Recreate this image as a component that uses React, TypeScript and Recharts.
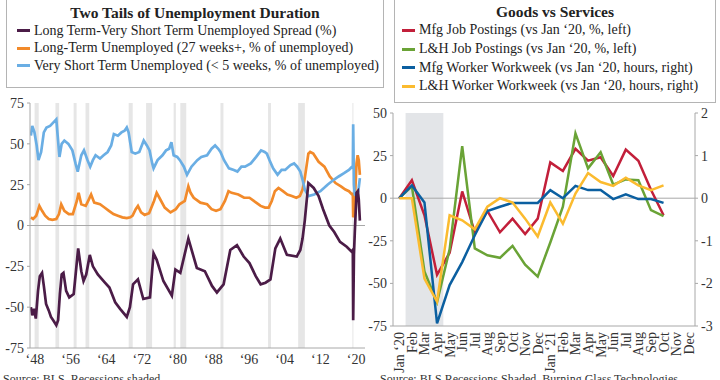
import React from 'react';
import { LineChart, Line, XAxis, YAxis, ReferenceArea, ReferenceLine } from 'recharts';

const FONT = '"Liberation Serif", "Times New Roman", serif';
const AXIS = '#a8a8a8';
const INK = '#333';

// ---- left panel: duration of unemployment, [year, value] ----
const spreadPts: [number, number][] = [
  [1948.0, -50], [1948.3, -55], [1948.7, -51], [1949.1, -57], [1949.6, -40], [1950.0, -31], [1950.5, -29],
  [1950.9, -37], [1951.4, -48], [1952.0, -52], [1952.5, -56], [1953.0, -58], [1953.7, -61], [1954.1, -58],
  [1954.5, -42], [1954.9, -30], [1955.3, -29], [1955.9, -40], [1956.6, -44], [1957.6, -42], [1958.6, -14],
  [1959.3, -28], [1959.8, -34], [1960.4, -30], [1961.2, -18], [1961.9, -25], [1963.0, -30], [1964.6, -35],
  [1965.6, -38], [1966.9, -47], [1968.0, -51], [1969.5, -56], [1970.2, -50], [1970.9, -36], [1972.0, -33],
  [1973.2, -45], [1974.7, -44], [1975.5, -17], [1976.2, -21], [1977.7, -34], [1979.6, -43], [1980.4, -27],
  [1981.5, -29], [1983.3, -8], [1985.2, -26], [1987.0, -28], [1988.6, -37], [1989.7, -41], [1991.2, -36],
  [1992.7, -15], [1994.2, -12], [1995.7, -19], [1997.0, -23], [1998.4, -31], [1999.5, -36], [2000.6, -35],
  [2001.7, -33], [2002.8, -14], [2003.9, -8], [2005.4, -18], [2007.6, -19], [2008.4, -15], [2008.9, -8],
  [2009.4, 3], [2010.2, 26], [2011.4, 23], [2012.5, 18], [2013.5, 10], [2014.9, 0], [2016.0, -4],
  [2017.3, -10], [2018.8, -13], [2019.9, -16], [2020.17, -15], [2020.25, -58], [2020.42, -18], [2020.6, -5],
  [2021.0, 20], [2021.3, 21], [2021.5, 16], [2021.75, 3],
];

const longTermPts: [number, number][] = [
  [1948.0, 5], [1948.5, 4], [1949.2, 6], [1949.9, 12], [1950.5, 9], [1951.2, 6], [1952.0, 4], [1952.8, 3.5],
  [1953.7, 4], [1954.3, 7], [1954.8, 13], [1955.5, 9], [1956.5, 7], [1957.4, 7], [1958.3, 15], [1958.7, 20],
  [1959.3, 13], [1960.3, 12], [1961.0, 16], [1961.5, 19], [1962.2, 14], [1963.5, 13], [1964.5, 11],
  [1965.5, 9], [1966.5, 7], [1967.5, 6], [1968.5, 5], [1969.5, 4.5], [1970.3, 5], [1970.8, 6], [1971.5, 10],
  [1972.0, 12], [1972.7, 8], [1973.5, 6.5], [1974.5, 7.5], [1975.6, 15], [1976.2, 20], [1976.8, 17],
  [1978.0, 11], [1979.3, 8], [1980.5, 10], [1981.3, 13], [1982.5, 15], [1983.3, 24], [1983.8, 20],
  [1984.5, 17], [1986.0, 14], [1987.5, 13], [1988.5, 10], [1989.5, 9], [1990.5, 10], [1991.5, 15],
  [1992.3, 21], [1993.0, 20], [1994.5, 19], [1995.8, 17], [1997.0, 17], [1998.5, 14], [1999.5, 12],
  [2000.5, 11], [2001.3, 11], [2002.0, 15], [2002.7, 21], [2003.5, 23], [2004.5, 21], [2005.5, 19],
  [2006.5, 18], [2007.5, 17], [2008.3, 18], [2008.9, 22], [2009.4, 29], [2010.2, 44], [2010.6, 45],
  [2011.3, 44], [2012.5, 39], [2013.8, 36], [2015.0, 30], [2016.3, 26], [2017.5, 24], [2018.5, 22],
  [2019.3, 21], [2020.0, 19], [2020.17, 20], [2020.25, 5], [2020.42, 7], [2020.6, 14], [2021.0, 38],
  [2021.25, 43], [2021.5, 40], [2021.75, 31],
];

const veryShortPts: [number, number][] = [
  [1948.0, 55], [1948.3, 61], [1948.8, 57], [1949.3, 49], [1949.7, 40], [1950.3, 45], [1950.9, 57],
  [1951.5, 60], [1952.3, 61], [1953.0, 63], [1953.7, 65], [1954.0, 55], [1954.4, 42], [1954.9, 50],
  [1955.5, 52], [1956.4, 50], [1957.3, 46], [1958.0, 38], [1958.5, 33], [1959.3, 43], [1959.9, 46],
  [1960.7, 40], [1961.3, 36], [1961.9, 40], [1962.5, 43], [1963.5, 41], [1964.3, 43], [1965.2, 45],
  [1966.0, 49], [1966.6, 56], [1967.5, 55], [1968.3, 57], [1969.0, 58], [1969.5, 60], [1969.9, 57],
  [1970.6, 45], [1971.4, 44], [1972.3, 45], [1973.3, 52], [1974.0, 49], [1974.6, 46], [1975.2, 38],
  [1975.5, 35], [1976.4, 40], [1977.5, 43], [1978.3, 46], [1979.0, 47], [1979.5, 51], [1980.0, 43],
  [1980.8, 42], [1981.4, 40], [1982.3, 36], [1983.0, 31], [1984.0, 36], [1985.3, 40], [1986.2, 42],
  [1987.5, 43], [1988.5, 47], [1989.3, 49], [1990.0, 47], [1990.5, 45], [1991.3, 40], [1992.4, 35],
  [1993.5, 34], [1994.3, 33], [1995.2, 36], [1996.0, 36], [1997.3, 38], [1998.5, 42], [1999.6, 46],
  [2000.4, 45], [2000.9, 44], [2001.5, 40], [2002.3, 35], [2003.3, 31], [2004.2, 34], [2005.0, 34],
  [2006.2, 37], [2007.0, 38], [2007.7, 36], [2008.4, 33], [2009.0, 27], [2009.4, 22], [2010.2, 18],
  [2011.5, 19], [2012.9, 21], [2014.5, 25], [2015.9, 28], [2017.0, 30], [2018.2, 32], [2019.3, 34],
  [2020.0, 36], [2020.17, 35], [2020.25, 62], [2020.42, 25], [2020.6, 19], [2021.0, 18], [2021.4, 21],
  [2021.75, 29],
];

const recessions: [number, number][] = [
  [1948.83, 1949.75], [1953.5, 1954.33], [1957.58, 1958.25], [1960.25, 1961.08], [1969.92, 1970.83],
  [1973.83, 1975.17], [1980.0, 1980.5], [1981.5, 1982.83], [1990.5, 1991.17], [2001.17, 2001.83],
  [2007.92, 2009.42], [2020.08, 2020.3],
];

const yearTicks = [1948, 1956, 1964, 1972, 1980, 1988, 1996, 2004, 2012, 2020];
const leftTicks = [-75, -50, -25, 0, 25, 50, 75];

// ---- right panel: goods vs services, monthly from Jan '20 ----
const months = [
  'Jan ‘20', 'Feb', 'Mar', 'Apr', 'May', 'Jun', 'Jul', 'Aug', 'Sep', 'Oct', 'Nov', 'Dec',
  'Jan ‘21', 'Feb', 'Mar', 'Apr', 'May', 'Jun', 'Jul', 'Aug', 'Sep', 'Oct', 'Nov', 'Dec',
];
const mfgPostings = [0, 10.5, -10, -45, -32, 4, -20, -7.5, -20, -12, -21, -12, 21, 16, 29, 22, 24, 13, 28.5, 22, 5, -10];
const lhPostings = [0, 7, -43, -61, -30, 30.5, -29.5, -33.5, -35, -28, -39, -46, -26, -5, 38, 17.5, 27, 8, 11, 10.5, -7, -10.5];
const mfgWorkweek = [0, 0.3, -0.1, -2.94, -2.04, -1.5, -0.87, -0.3, -0.2, -0.11, -0.11, -0.11, 0.19, 0, 0.29, 0.19, 0.19, -0.02, 0.09, -0.02, -0.02, -0.11];
const lhWorkweek = [0, 0, -1.89, -2.43, -0.4, -0.52, -0.73, -0.2, 0, -0.1, -0.48, -0.9, -0.1, -0.6, 0.11, 0.59, 0.38, 0.29, 0.48, 0.3, 0.19, 0.3];
const shadedMonths: [number, number] = [0.5, 3.5];

const goodsTicks = [-75, -50, -25, 0, 25, 50];
const hoursTicks = [-3, -2, -1, 0, 1, 2];

const toRows = (pts: [number, number][]) => pts.map(([t, v]) => ({ t, v }));

const rightData = mfgPostings.map((v, i) => ({
  i,
  mfgPost: v,
  lhPost: lhPostings[i],
  mfgWeek: mfgWorkweek[i],
  lhWeek: lhWorkweek[i],
}));

const COLORS = {
  spread: '#4b1c47',
  longTerm: '#f28a2a',
  veryShort: '#6aaee4',
  mfgPost: '#c21f3a',
  lhPost: '#6aa336',
  mfgWeek: '#0b5fa0',
  lhWeek: '#fbbb2f',
};

type Item = { label: string; color: string };

const LegendBox = ({ title, items, box, rowH, padLeft, titleTop }: {
  title: string; items: Item[]; box: React.CSSProperties; rowH: number; padLeft: number; titleTop: number;
}) => (
  <div style={{
    position: 'absolute', border: '1.5px solid #b4b4b4', background: '#fff', boxSizing: 'border-box',
    fontFamily: FONT, color: '#222', ...box,
  }}>
    <div style={{ marginTop: titleTop, textAlign: 'center', fontWeight: 'bold', fontSize: 15.5, lineHeight: '18px' }}>{title}</div>
    {items.map((it) => (
      <div key={it.label} style={{ display: 'flex', alignItems: 'center', height: rowH, paddingLeft: padLeft, fontSize: 14, whiteSpace: 'nowrap' }}>
        <span style={{ display: 'inline-block', width: 13, height: 3, background: it.color, marginRight: 4 }} />
        {it.label}
      </div>
    ))}
  </div>
);

const MonthTick = (props: any) => {
  const { x, y, payload } = props;
  return (
    <g transform={`translate(${x},${y})`}>
      <text transform="rotate(-90)" x={-4} y={0} dy={5} textAnchor="end" fontSize={14} fontFamily={FONT} fill={INK}>
        {months[payload.value]}
      </text>
    </g>
  );
};

const tickStyle = { fontSize: 14, fontFamily: FONT, fill: INK };

export default function App() {
  return (
    <div style={{ position: 'absolute', left: 0, top: 0, width: 720, height: 380, overflow: 'hidden', background: '#fff' }}>
      <div style={{ position: 'absolute', left: 0, top: 0 }}>
        <LineChart width={370} height={380} margin={{ top: 103, right: 5, bottom: 2, left: 0 }}>
          {recessions.map(([a, b]) => (
            <ReferenceArea key={a} x1={a} x2={b} y1={-75} y2={75} fill="#e6e6e6" fillOpacity={1} stroke="none" />
          ))}
          <XAxis
            type="number" dataKey="t" domain={[1947.8, 2022.9]} allowDataOverflow ticks={yearTicks}
            tickFormatter={(y: number) => `‘${String(y).slice(2)}`}
            tick={{ ...tickStyle, dx: 4 }} tickSize={0} tickMargin={6} height={30}
            axisLine={{ stroke: AXIS }} tickLine={false}
          />
          <YAxis
            type="number" domain={[-75, 75]} ticks={leftTicks} width={30}
            tick={tickStyle} tickSize={3} tickMargin={3} axisLine={{ stroke: AXIS }} tickLine={{ stroke: AXIS }}
          />
          <ReferenceLine y={0} stroke={AXIS} strokeWidth={1} />
          <Line data={toRows(longTermPts)} dataKey="v" stroke={COLORS.longTerm} strokeWidth={2.7} dot={false} isAnimationActive={false} />
          <Line data={toRows(veryShortPts)} dataKey="v" stroke={COLORS.veryShort} strokeWidth={2.7} dot={false} isAnimationActive={false} />
          <Line data={toRows(spreadPts)} dataKey="v" stroke={COLORS.spread} strokeWidth={2.7} dot={false} isAnimationActive={false} />
        </LineChart>
      </div>

      <div style={{ position: 'absolute', left: 360, top: 0 }}>
        <LineChart width={360} height={380} data={rightData} margin={{ top: 113, right: 0, bottom: 0, left: 10 }}>
          <ReferenceArea yAxisId="left" x1={shadedMonths[0]} x2={shadedMonths[1]} y1={-75} y2={50} fill="#e3e5e8" fillOpacity={1} stroke="none" />
          <XAxis
            type="number" dataKey="i" domain={[-0.5, 23.5]} ticks={months.map((_, i) => i)} interval={0}
            tick={<MonthTick />} tickSize={0} height={54} axisLine={{ stroke: AXIS }} tickLine={false}
          />
          <YAxis
            yAxisId="left" type="number" domain={[-75, 50]} ticks={goodsTicks} width={23}
            tick={tickStyle} tickSize={3} tickMargin={3} axisLine={{ stroke: AXIS }} tickLine={{ stroke: AXIS }}
          />
          <YAxis
            yAxisId="right" orientation="right" type="number" domain={[-3, 2]} ticks={hoursTicks} width={25}
            tick={tickStyle} tickSize={3} tickMargin={3} axisLine={{ stroke: AXIS }} tickLine={{ stroke: AXIS }}
          />
          <ReferenceLine yAxisId="left" y={0} stroke={AXIS} strokeWidth={1} />
          <Line yAxisId="left" dataKey="mfgPost" stroke={COLORS.mfgPost} strokeWidth={2.5} dot={false} isAnimationActive={false} />
          <Line yAxisId="left" dataKey="lhPost" stroke={COLORS.lhPost} strokeWidth={2.5} dot={false} isAnimationActive={false} />
          <Line yAxisId="right" dataKey="mfgWeek" stroke={COLORS.mfgWeek} strokeWidth={2.5} dot={false} isAnimationActive={false} />
          <Line yAxisId="right" dataKey="lhWeek" stroke={COLORS.lhWeek} strokeWidth={2.5} dot={false} isAnimationActive={false} />
        </LineChart>
      </div>

      <LegendBox
        title="Two Tails of Unemployment Duration"
        box={{ left: 6, top: -2, width: 378, height: 90 }}
        titleTop={5} rowH={17.5} padLeft={10}
        items={[
          { label: 'Long Term-Very Short Term Unemployed Spread (%)', color: COLORS.spread },
          { label: 'Long-Term Unemployed (27 weeks+, % of unemployed)', color: COLORS.longTerm },
          { label: 'Very Short Term Unemployed (< 5 weeks, % of unemployed)', color: COLORS.veryShort },
        ]}
      />
      <LegendBox
        title="Goods vs Services"
        box={{ left: 394, top: -2, width: 322, height: 105 }}
        titleTop={4} rowH={18.7} padLeft={7}
        items={[
          { label: 'Mfg Job Postings (vs Jan ‘20, %, left)', color: COLORS.mfgPost },
          { label: 'L&H Job Postings (vs Jan ‘20, %, left)', color: COLORS.lhPost },
          { label: 'Mfg Worker Workweek (vs Jan ‘20, hours, right)', color: COLORS.mfgWeek },
          { label: 'L&H Worker Workweek (vs Jan ‘20, hours, right)', color: COLORS.lhWeek },
        ]}
      />

      <div style={{ position: 'absolute', left: 3, top: 372, fontFamily: FONT, fontSize: 12, color: INK, whiteSpace: 'nowrap' }}>
        Source: BLS, Recessions shaded
      </div>
      <div style={{ position: 'absolute', left: 380, top: 372, fontFamily: FONT, fontSize: 12, color: INK, whiteSpace: 'nowrap' }}>
        Source: BLS Recessions Shaded, Burning Glass Technologies
      </div>
    </div>
  );
}
